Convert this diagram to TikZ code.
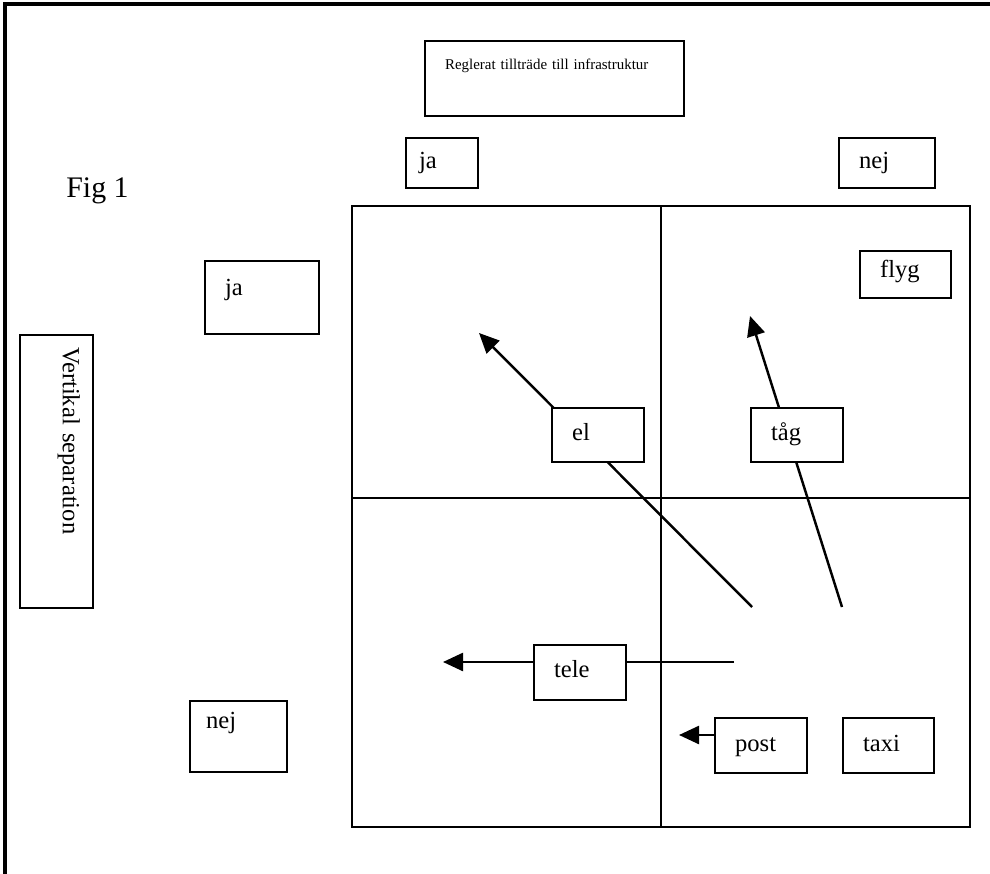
\documentclass[tikz,border=0pt]{standalone}
\usepackage{fontspec}
\setmainfont{Liberation Serif}
\usetikzlibrary{arrows.meta,backgrounds}

\begin{document}
\begin{tikzpicture}[
    x=0.02cm, y=-0.02cm,
    lbl/.style={draw, line width=1.3pt, fill=white, anchor=north west,
      inner ysep=0pt, inner xsep=0.4cm, align=left,
      font=\fontsize{14}{16}\selectfont},
    arrow/.style={-{Triangle[length=0.4cm, width=0.36cm]}, line width=1.4pt},
    quad/.style={line width=1.6pt}
]
    \useasboundingbox (0,0) rectangle (990,874);
    \draw[line width=1.8pt] (5,874) -- (5,4) -- (990,4);

    % rubriker
    \node[lbl, font=\fontsize{8.5}{10}\selectfont, text width=4.38cm, text height=0.56cm, text depth=0.94cm] (regl) at (424,40) {Reglerat tillträde till infrastruktur};
    \node[lbl, inner xsep=0.26cm, text width=0.92cm, text height=0.6cm, text depth=0.4cm] (jaT) at (405,137) {ja};
    \node[lbl, text width=1.12cm, text height=0.6cm, text depth=0.4cm] (nejT) at (838,137) {nej};
    \node[anchor=base west, inner sep=0pt, font=\fontsize{17}{20}\selectfont] (fig) at (66,198) {Fig 1};
    \node[lbl, text width=1.48cm, text height=0.68cm, text depth=0.78cm] (jaL) at (204,260) {ja};
    \node[lbl, inner xsep=0.32cm, text width=1.3cm, text height=0.54cm, text depth=0.88cm] (nejL) at (189,700) {nej};
    \node[lbl, rotate=-90, inner xsep=0.24cm, text width=4.98cm, text height=0.6cm, text depth=0.86cm] (vert) at (94,334) {Vertikal separation};

    % fyrfält
    \draw[quad] (352,206) rectangle (970,827);
    \draw[quad] (661,206) -- (661,827);
    \draw[quad] (352,498) -- (970,498);

    % sektorer
    \node[lbl, text width=1.02cm, text height=0.52cm, text depth=0.42cm] (flyg) at (859,250) {flyg};
    \node[lbl, text width=1.04cm, text height=0.64cm, text depth=0.44cm] (el) at (551,407) {el};
    \node[lbl, text width=1.04cm, text height=0.64cm, text depth=0.44cm] (tag) at (750,407) {tåg};
    \node[lbl, text width=1.04cm, text height=0.64cm, text depth=0.46cm] (tele) at (533,644) {tele};
    \node[lbl, text width=1.04cm, text height=0.66cm, text depth=0.44cm] (post) at (714,717) {post};
    \node[lbl, text width=1.02cm, text height=0.66cm, text depth=0.44cm] (taxi) at (842,717) {taxi};

    \coordinate (elfrom) at (752,607);
    \coordinate (elto) at (479,333);
    \coordinate (tagfrom) at (842,607);
    \coordinate (tagto) at (750,316);
    \coordinate (telefrom) at (734,662);
    \coordinate (teleto) at (443,662);
    \coordinate (postto) at (679,735);

    \begin{scope}[on background layer]
    \draw[arrow] (elfrom) -- (elto);
    \draw[arrow] (tagfrom) -- (tagto);
    \draw[arrow] (telefrom) -- (teleto);
    \draw[arrow] (post.west |- postto) -- (postto);
    \end{scope}
\end{tikzpicture}
\end{document}
